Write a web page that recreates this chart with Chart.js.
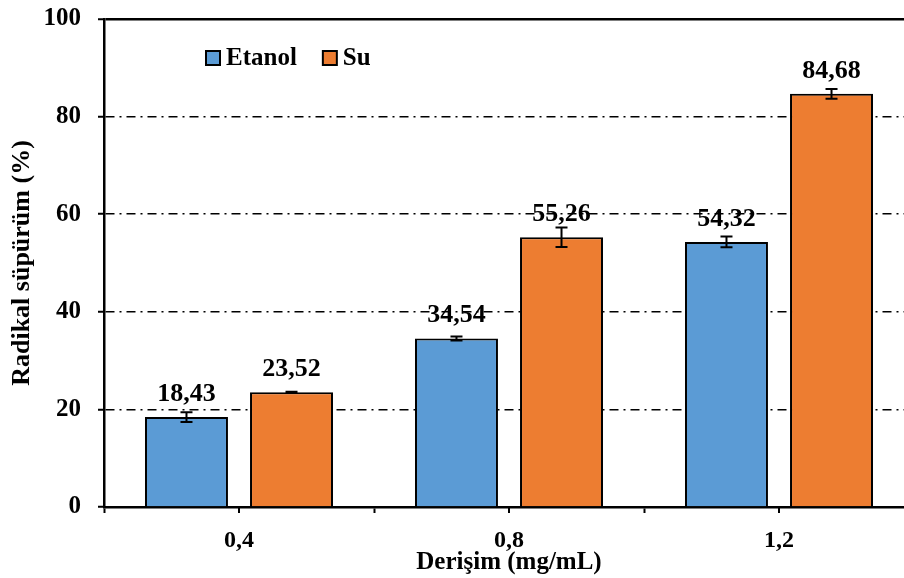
<!DOCTYPE html>
<html>
<head>
<meta charset="utf-8">
<script src="https://cdn.jsdelivr.net/npm/chart.js@4.4.1/dist/chart.umd.min.js"></script>
<style>
  html, body { margin: 0; padding: 0; background: #ffffff; }
  #wrap { width: 904px; height: 578px; position: relative; overflow: hidden; }
</style>
</head>
<body>
<div id="wrap"><canvas id="c" width="914" height="578"></canvas></div>
<script>
// ---- data ----
const categories = ['0,4', '0,8', '1,2'];
const seriesNames = ['Etanol', 'Su'];
const etanolValues = [18.43, 34.54, 54.32];
const suValues = [23.52, 55.26, 84.68];
const etanolErrors = [1.0, 0.4, 1.1];
const suErrors = [0.1, 2.0, 1.0];
const valueLabelsEtanol = ['18,43', '34,54', '54,32'];
const valueLabelsSu = ['23,52', '55,26', '84,68'];
const yAxisMin = 0;
const yAxisMax = 100;
const yAxisStep = 20;
const xAxisTitle = 'Derişim (mg/mL)';
const yAxisTitle = 'Radikal süpürüm (%)';

const FONT = '"Liberation Serif", "Times New Roman", serif';
const BLUE = '#5B9BD5';
const ORANGE = '#ED7D31';

const errorSets = [etanolErrors, suErrors];
const labelSets = [valueLabelsEtanol, valueLabelsSu];

// center tick marks on the category axis
const centerTicks = {
  id: 'centerTicks',
  afterDatasetsDraw(chart) {
    const x = chart.scales.x;
    const ctx = chart.ctx;
    ctx.save();
    ctx.strokeStyle = '#000';
    ctx.lineWidth = 2;
    for (let i = 0; i < categories.length; i++) {
      const px = Math.round(x.getPixelForValue(i));
      ctx.beginPath();
      ctx.moveTo(px, x.top);
      ctx.lineTo(px, x.top + 6);
      ctx.stroke();
    }
    ctx.restore();
  }
};

// error bars + value labels
const errorAndLabels = {
  id: 'errorAndLabels',
  afterDatasetsDraw(chart) {
    const ctx = chart.ctx;
    const y = chart.scales.y;
    ctx.save();
    chart.data.datasets.forEach((ds, di) => {
      const meta = chart.getDatasetMeta(di);
      meta.data.forEach((bar, i) => {
        const v = ds.data[i];
        const e = errorSets[di][i];
        const cx = bar.x;
        const yTop = y.getPixelForValue(v + e);
        const yBot = y.getPixelForValue(v - e);
        ctx.strokeStyle = '#000';
        ctx.lineWidth = 2;
        ctx.beginPath();
        ctx.moveTo(cx, yTop); ctx.lineTo(cx, yBot);
        ctx.moveTo(cx - 6, yTop); ctx.lineTo(cx + 6, yTop);
        ctx.moveTo(cx - 6, yBot); ctx.lineTo(cx + 6, yBot);
        ctx.stroke();
        ctx.fillStyle = '#000';
        ctx.font = 'bold 26px ' + FONT;
        ctx.textAlign = 'center';
        ctx.textBaseline = 'alphabetic';
        ctx.fillText(labelSets[di][i], cx, y.getPixelForValue(v) - 16);
      });
    });
    ctx.restore();
  }
};

// legend inside the plot area
const innerLegend = {
  id: 'innerLegend',
  afterDraw(chart) {
    const ctx = chart.ctx;
    const area = chart.chartArea;
    let x = area.left + 102;
    const cy = area.top + 39;
    ctx.save();
    ctx.font = 'bold 25px ' + FONT;
    ctx.textBaseline = 'middle';
    ctx.textAlign = 'left';
    chart.data.datasets.forEach((ds) => {
      ctx.fillStyle = ds.backgroundColor;
      ctx.fillRect(x, cy - 7, 14, 14);
      ctx.strokeStyle = '#000';
      ctx.lineWidth = 2;
      ctx.strokeRect(x, cy - 7, 14, 14);
      ctx.fillStyle = '#000';
      ctx.fillText(ds.label, x + 20, cy + 1);
      x += 20 + ctx.measureText(ds.label).width + 26;
    });
    ctx.restore();
  }
};

new Chart(document.getElementById('c'), {
  type: 'bar',
  data: {
    labels: categories,
    datasets: [
      { label: seriesNames[0], data: etanolValues, backgroundColor: BLUE, borderColor: '#000', borderWidth: 2 },
      { label: seriesNames[1], data: suValues, backgroundColor: ORANGE, borderColor: '#000', borderWidth: 2 }
    ]
  },
  options: {
    responsive: false,
    animation: false,
    devicePixelRatio: 1,
    categoryPercentage: 0.778,
    barPercentage: 0.79,
    layout: { padding: { top: 19, right: 0, left: 0, bottom: 0 } },
    plugins: {
      legend: { display: false },
      tooltip: { enabled: false }
    },
    scales: {
      x: {
        grid: {
          display: true,
          offset: true,
          drawOnChartArea: false,
          drawTicks: true,
          tickLength: 6,
          tickWidth: 2,
          tickColor: '#000',
          color: '#000'
        },
        border: { display: true, color: '#000', width: 2.5 },
        ticks: {
          color: '#000',
          font: { family: FONT, size: 24, weight: 'bold' },
          padding: 13,
          maxRotation: 0
        },
        title: {
          display: true,
          text: xAxisTitle,
          color: '#000',
          font: { family: FONT, size: 25, weight: 'bold' },
          padding: { top: 0, bottom: 0 }
        },
        afterFit(scale) { scale.height = 71; scale.paddingLeft = 0; scale.paddingRight = 0; }
      },
      y: {
        min: yAxisMin,
        max: yAxisMax,
        ticks: {
          stepSize: yAxisStep,
          color: '#000',
          font: { family: FONT, size: 25, weight: 'bold' },
          padding: 17
        },
        grid: {
          drawTicks: true,
          tickLength: 6,
          tickWidth: 2,
          tickColor: '#000',
          tickBorderDash: [],
          color: (c) => (c.tick && c.tick.value === yAxisMin) ? 'rgba(0,0,0,0)' : '#000',
          lineWidth: (c) => (c.tick && c.tick.value === yAxisMax) ? 2.5 : 1.5
        },
        border: {
          display: true,
          color: '#000',
          width: 2.5,
          dash: (c) => (c.tick && c.tick.value !== yAxisMax) ? [9, 5, 2, 5] : []
        },
        title: {
          display: true,
          text: yAxisTitle,
          color: '#000',
          font: { family: FONT, size: 26, weight: 'bold' },
          padding: { top: 7, bottom: 0 }
        },
        afterFit(scale) { scale.width = 104; scale.paddingTop = 0; scale.paddingBottom = 0; }
      }
    }
  },
  plugins: [centerTicks, errorAndLabels, innerLegend]
});
</script>
</body>
</html>
